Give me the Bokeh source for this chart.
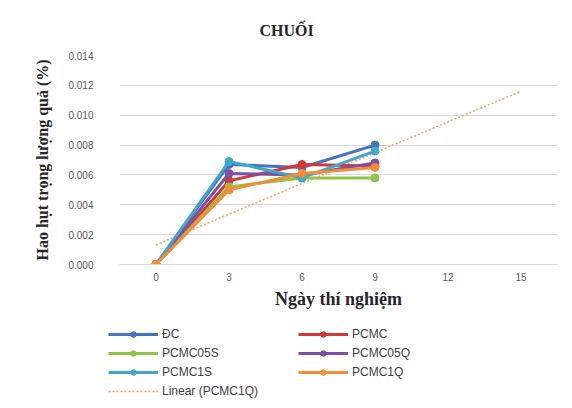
import numpy as np
from bokeh.plotting import figure
from bokeh.layouts import column
from bokeh.models import (Range1d, FixedTicker, NumeralTickFormatter, Legend,
                          LegendItem, ColumnDataSource)
from bokeh.embed import file_html
from bokeh.resources import INLINE

days = [0, 3, 6, 9]
series_names = ["ĐC", "PCMC", "PCMC05S", "PCMC05Q", "PCMC1S", "PCMC1Q"]
dc = [0.0, 0.0067, 0.0065, 0.0080]
pcmc = [0.0, 0.0056, 0.0067, 0.0066]
pcmc05s = [0.0, 0.0052, 0.0058, 0.0058]
pcmc05q = [0.0, 0.0061, 0.0060, 0.0068]
pcmc1s = [0.0, 0.0069, 0.0058, 0.0076]
pcmc1q = [0.0, 0.0050, 0.0061, 0.0065]
x_ticks = [0, 3, 6, 9, 12, 15]
y_ticks = [0.0, 0.002, 0.004, 0.006, 0.008, 0.010, 0.012, 0.014]
colors = ["#4472C4", "#D2373C", "#92C247", "#7E4FA8", "#3FA9C9", "#F58C36"]
trend_color = "#F5A05A"

values = [dc, pcmc, pcmc05s, pcmc05q, pcmc1s, pcmc1q]

p = figure(width=571, height=314,
           frame_width=438, frame_height=209,
           min_border_left=119, min_border_top=55, min_border_right=14,
           min_border_bottom=50,
           x_range=Range1d(-1.5, 16.5), y_range=Range1d(0, 0.014),
           output_backend="svg", toolbar_location=None,
           background_fill_color="white", border_fill_color="white",
           title="CHUỐI")
p.outline_line_color = None

p.title.align = "left"
p.title.offset = 140
p.title.standoff = 34
p.title.vertical_align = "bottom"
p.title.text_font = "Liberation Serif"
p.title.text_font_style = "bold"
p.title.text_font_size = "16px"
p.title.text_color = "#262626"

# grid
p.xgrid.grid_line_color = None
p.ygrid.grid_line_color = "#d9d9d9"
p.ygrid.grid_line_width = 1

# axes
p.xaxis.ticker = FixedTicker(ticks=x_ticks)
p.yaxis.ticker = FixedTicker(ticks=y_ticks)
p.yaxis.formatter = NumeralTickFormatter(format="0.000")
for ax in (p.xaxis[0], p.yaxis[0]):
    ax.major_tick_line_color = None
    ax.minor_tick_line_color = None
    ax.major_label_text_font = "Liberation Sans"
    ax.major_label_text_font_size = "10px"
    ax.major_label_text_color = "#595959"
    ax.axis_label_text_font = "Liberation Serif"
    ax.axis_label_text_font_style = "bold"
    ax.axis_label_text_color = "#262626"
p.yaxis.axis_line_color = None
p.xaxis.axis_line_color = "#d9d9d9"
p.yaxis.major_label_standoff = 20
p.xaxis.major_label_standoff = 2
p.xaxis.axis_label = "Ngày thí nghiệm"
p.xaxis.axis_label_text_font_size = "18px"
p.xaxis.axis_label_standoff = 5
p.yaxis.axis_label = "Hao hụt trọng lượng quả (%)"
p.yaxis.axis_label_text_font_size = "16px"
p.yaxis.axis_label_standoff = 14

# trendline (linear fit of PCMC1Q)
slope, intercept = np.polyfit(days, pcmc1q, 1)
tx = [x_ticks[0], x_ticks[-1]]
ty = [intercept + slope * t for t in tx]
p.line(tx, ty, line_color=trend_color, line_width=1.5, line_dash="2 2")

for name, vals, c in zip(series_names, values, colors):
    src = ColumnDataSource(dict(x=days, y=vals))
    p.line("x", "y", source=src, line_color=c, line_width=3)
    p.scatter("x", "y", source=src, size=8, fill_color=c, line_color=c)

# legend strip (same series, drawn outside its view so only the legend shows)
pl = figure(width=571, height=94,
            min_border_left=0, min_border_right=0, min_border_top=0,
            min_border_bottom=0,
            x_range=Range1d(100, 101), y_range=Range1d(100, 101),
            x_axis_type=None, y_axis_type=None,
            output_backend="svg", toolbar_location=None,
            background_fill_color="white", border_fill_color="white")
pl.outline_line_color = None
pl.grid.visible = False

legend_x = 0
if "frame_align" in pl.properties():
    pl.frame_align = False
    p.frame_align = False
    legend_x = 108

items = []
for name, vals, c in zip(series_names, values, colors):
    src = ColumnDataSource(dict(x=days, y=vals))
    ln = pl.line("x", "y", source=src, line_color=c, line_width=3)
    sc = pl.scatter("x", "y", source=src, size=7, fill_color=c, line_color=c)
    items.append(LegendItem(label=name, renderers=[ln, sc]))
tr = pl.line(tx, ty, line_color=trend_color, line_width=1.5, line_dash="2 2")
items.append(LegendItem(label="Linear (PCMC1Q)", renderers=[tr]))

legend = Legend(items=items, location=(legend_x, 10), orientation="horizontal",
                ncols=2,
                background_fill_alpha=0, border_line_color=None,
                padding=0, margin=0, spacing=5,
                label_text_font="Liberation Sans", label_text_font_size="12px",
                label_text_color="#404040", label_standoff=4,
                label_width=131,
                glyph_width=50, glyph_height=14, label_height=14)
pl.add_layout(legend, "center")

layout = column(p, pl, spacing=0)
open("out.html", "w").write(file_html(layout, INLINE))
